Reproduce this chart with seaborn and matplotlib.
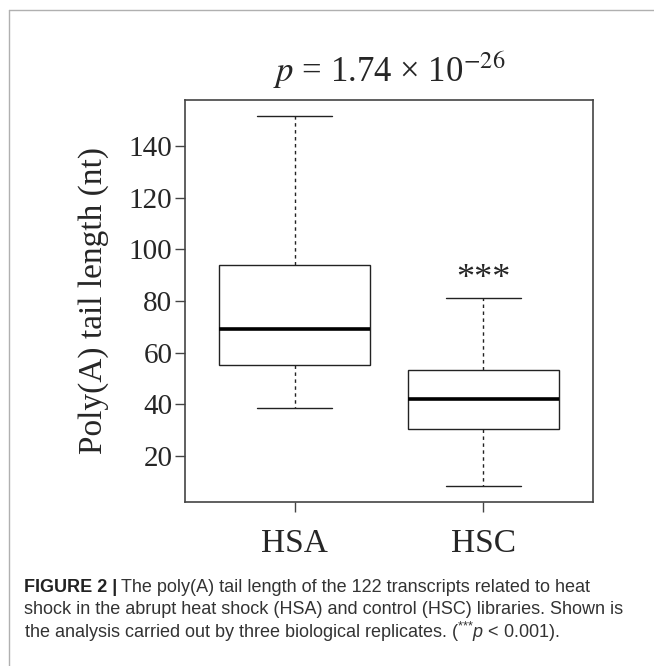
import matplotlib.pyplot as plt
import seaborn as sns
import pandas as pd
from matplotlib.lines import Line2D

# --- DATA ---
groups = ['HSA', 'HSC']
# five-number summaries: lower whisker, Q1, median, Q3, upper whisker
hsa_summary = [38.7, 55.1, 69.0, 93.8, 151.7]
hsc_summary = [8.2, 30.3, 41.9, 53.1, 81.1]
y_ticks = [20, 40, 60, 80, 100, 120, 140]
y_limits = (2.2, 157.8)
star_y = 85
title_text = r"$p$ = 1.74 × 10$^{-26}$"
caption_bold = "FIGURE 2 |"
caption_lines = [
    "The poly(A) tail length of the 122 transcripts related to heat",
    "shock in the abrupt heat shock (HSA) and control (HSC) libraries. Shown is",
    r"the analysis carried out by three biological replicates. (${}^{\text{***}}$$\it{p}$ < 0.001).",
]

df = pd.DataFrame({
    'group': [groups[0]] * len(hsa_summary) + [groups[1]] * len(hsc_summary),
    'length': hsa_summary + hsc_summary,
})

sns.set_style('white')
plt.rcParams['font.family'] = ['Liberation Serif', 'DejaVu Serif']
plt.rcParams['mathtext.fontset'] = 'custom'
plt.rcParams['mathtext.rm'] = 'Liberation Sans'
plt.rcParams['mathtext.it'] = 'Liberation Sans:italic'
plt.rcParams['mathtext.bf'] = 'Liberation Sans:bold'

fig = plt.figure(figsize=(6.54, 6.66), dpi=100)
ax = fig.add_axes([185 / 654, 1 - 502 / 666, 408 / 654, 402 / 666])

line_col = '#222222'
sns.boxplot(data=df, x='group', y='length', order=groups, width=0.8,
            color='white', linecolor=line_col, linewidth=1.0, fliersize=0,
            whiskerprops=dict(linestyle=(0, (2.5, 2.5))),
            medianprops=dict(linewidth=2.6, color='black'),
            ax=ax)

ax.set_xlim(-0.58, 1.58)
ax.set_ylim(*y_limits)
ax.set_yticks(y_ticks)
ax.set_xlabel('')
ax.set_ylabel('Poly(A) tail length (nt)', fontsize=24, labelpad=14)
ax.tick_params(axis='y', labelsize=21, direction='out', length=7, width=1,
               color='#444444', left=True, pad=2)
ax.tick_params(axis='x', labelsize=24, direction='out', length=7, width=1,
               color='#444444', bottom=True, pad=12)
for s in ax.spines.values():
    s.set_visible(True)
    s.set_color('#444444')
    s.set_linewidth(1.2)

ax.set_title(title_text, fontsize=25, pad=13, math_fontfamily='stix')
ax.text(1, star_y, '***', ha='center', va='baseline', fontsize=26)

# outer frame (top and left edge of the figure panel)
fig.add_artist(Line2D([9 / 654, 9 / 654], [0, 1 - 10 / 666],
                      transform=fig.transFigure, color='#b0b0b0', lw=1))
fig.add_artist(Line2D([9 / 654, 1], [1 - 10 / 666, 1 - 10 / 666],
                      transform=fig.transFigure, color='#b0b0b0', lw=1))

# caption
cap_size = 13
cap_x = 24 / 654
cap_y = [1 - 588 / 666, 1 - 610 / 666, 1 - 632 / 666]
bold = fig.text(cap_x, cap_y[0], caption_bold, fontsize=cap_size, weight='bold',
                family='Liberation Sans', color='#222222', va='center')
fig.canvas.draw()
bb = bold.get_window_extent()
fig.text(bb.x1 / fig.bbox.width + 4 / 654, cap_y[0], caption_lines[0],
         fontsize=cap_size, family='Liberation Sans', color='#333333', va='center')
for txt, yy in zip(caption_lines[1:], cap_y[1:]):
    fig.text(cap_x, yy, txt, fontsize=cap_size, family='Liberation Sans',
             color='#333333', va='center')

fig.savefig('out.png', dpi=100)
